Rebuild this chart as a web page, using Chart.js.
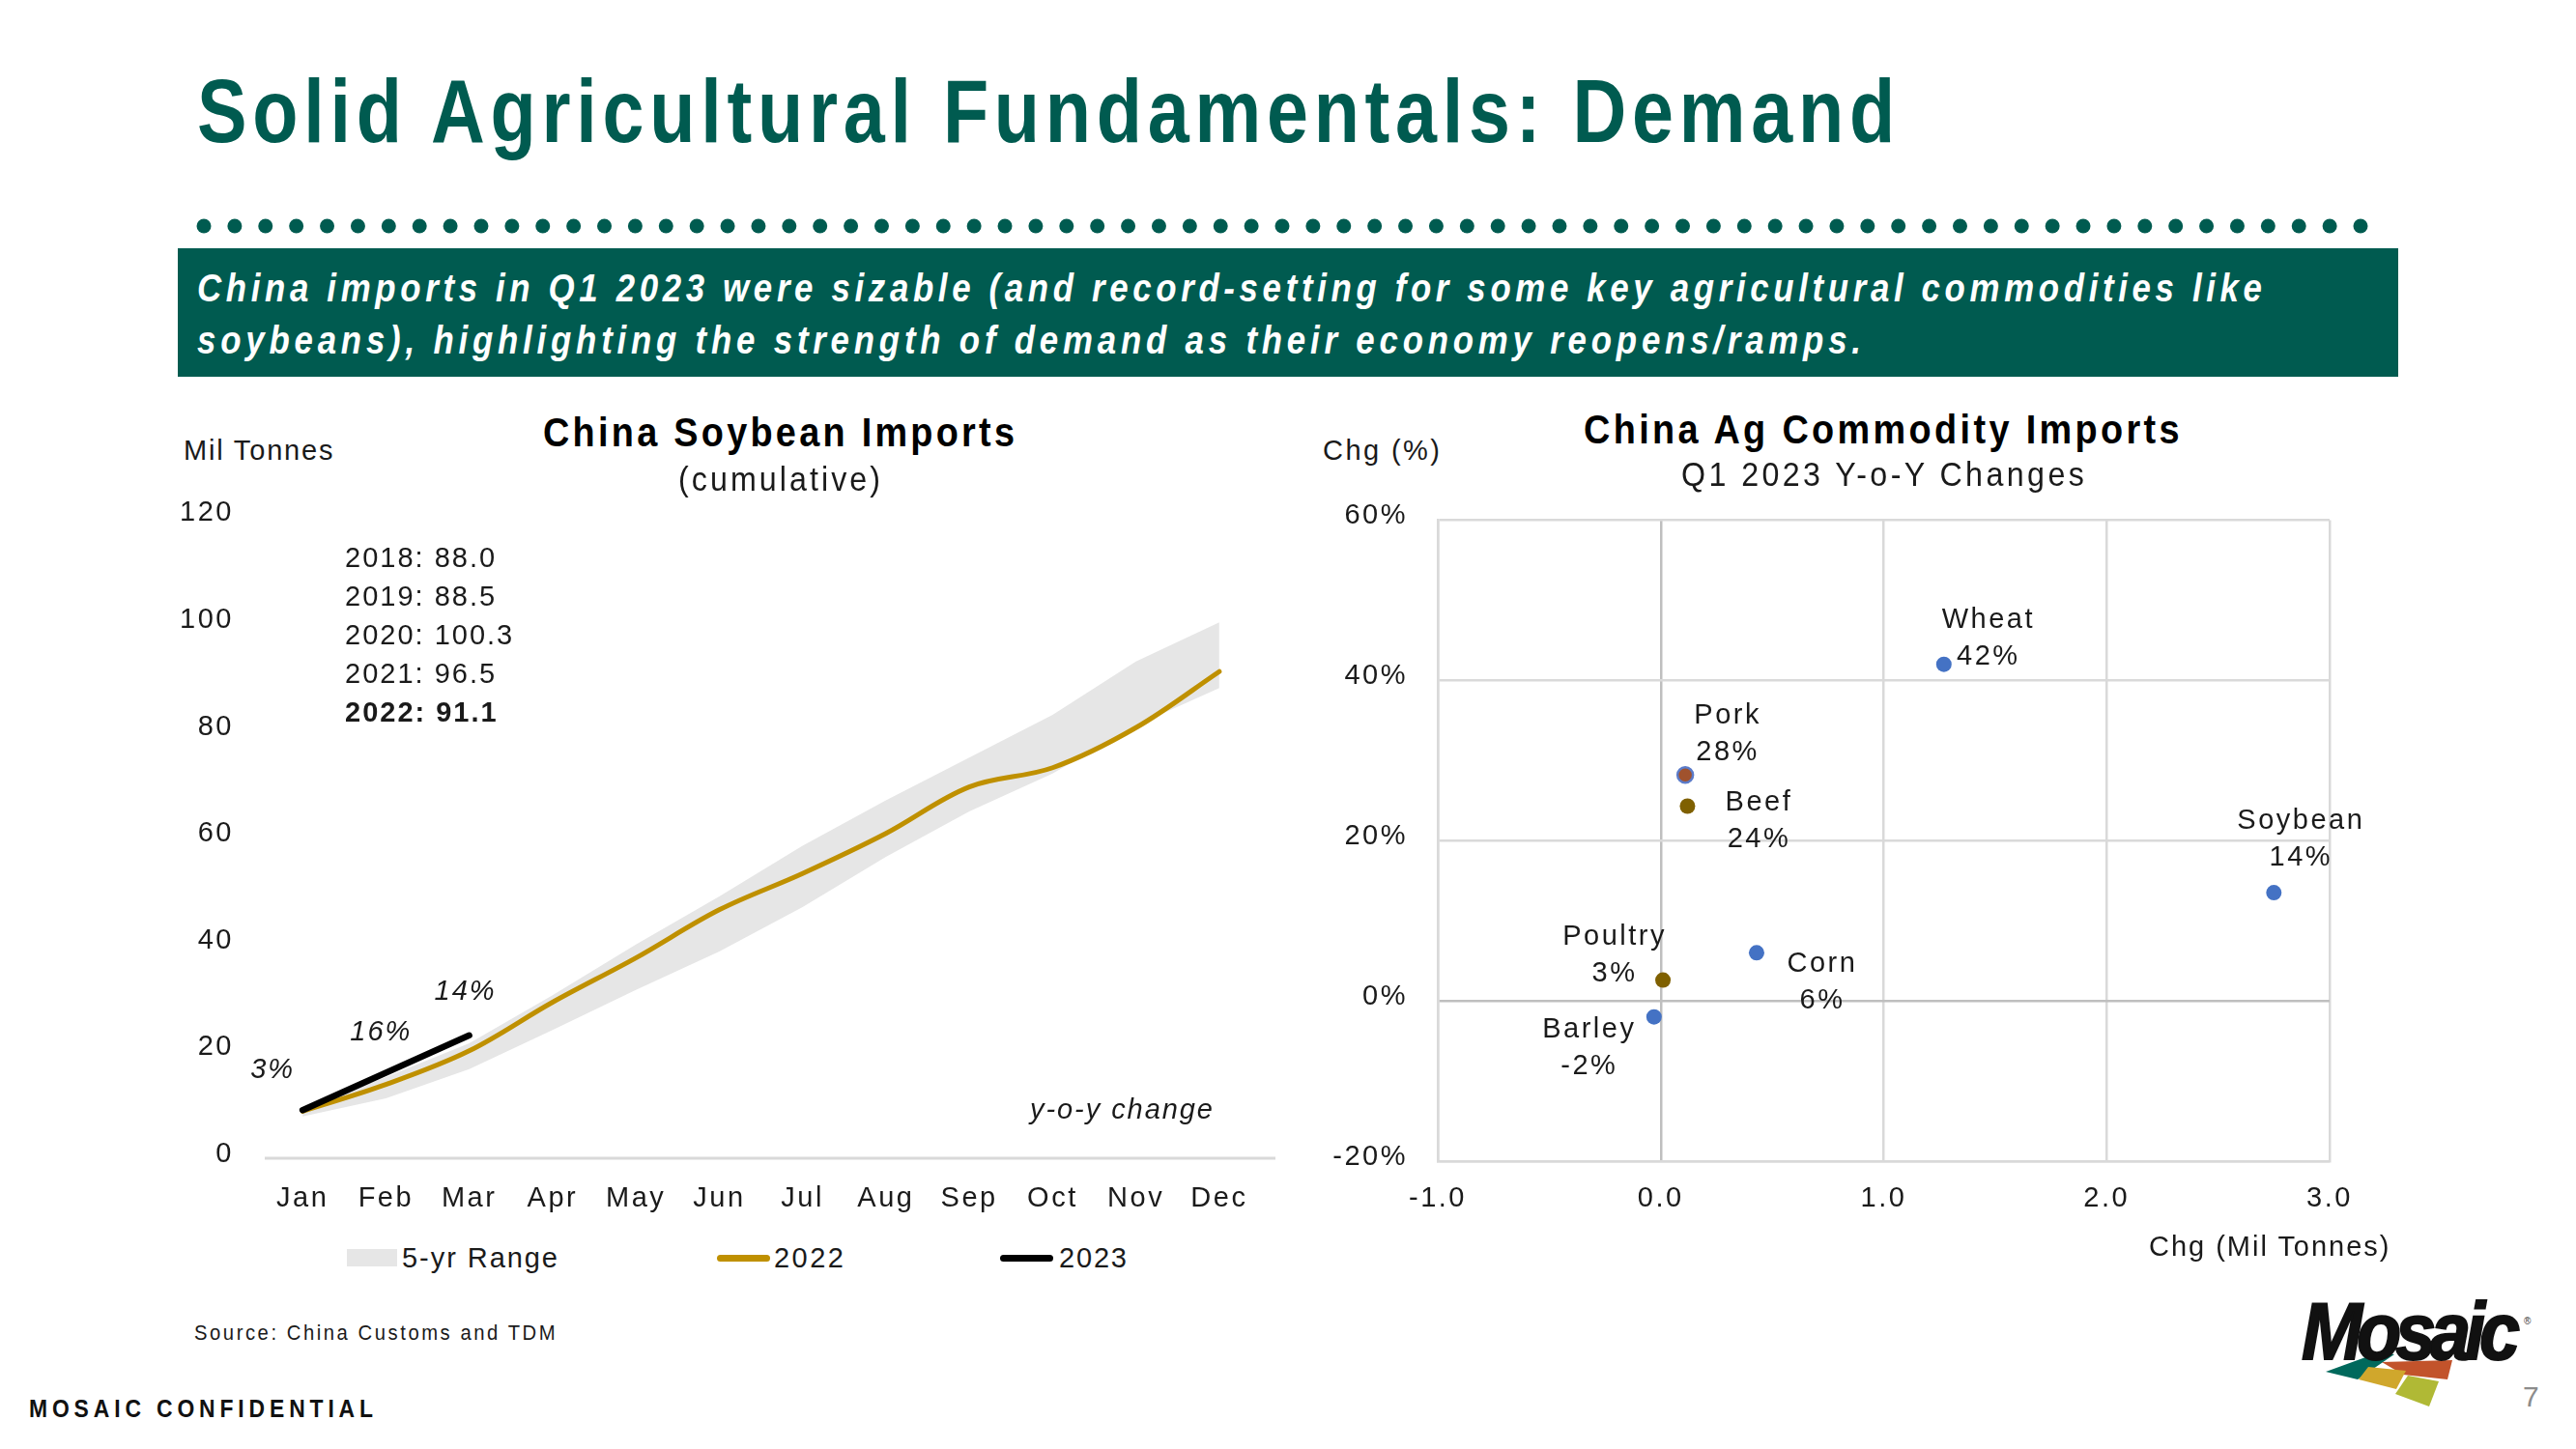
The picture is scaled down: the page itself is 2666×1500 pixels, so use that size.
<!DOCTYPE html>
<html><head><meta charset="utf-8">
<script src="https://cdn.jsdelivr.net/npm/chart.js@4.4.0/dist/chart.umd.min.js"></script>
<style>
html,body{margin:0;padding:0;background:#fff;}
body{width:2666px;height:1500px;position:relative;overflow:hidden;font-family:"Liberation Sans",Arial,sans-serif;}
.t{position:absolute;white-space:nowrap;transform-origin:0 50%;}
canvas{position:absolute;}
</style></head><body>
<svg id="deco" width="2666" height="1500" style="position:absolute;left:0;top:0"></svg>
<canvas id="left" width="1190" height="790" style="left:150px;top:490px"></canvas>
<canvas id="right" width="1200" height="820" style="left:1340px;top:490px"></canvas>
<script>
// ---------- DATA ----------
const months = ['Jan','Feb','Mar','Apr','May','Jun','Jul','Aug','Sep','Oct','Nov','Dec'];
const range5High = [9.3, 15.2, 21.5, 30.5, 40.0, 49.0, 58.5, 67.0, 75.0, 83.0, 93.0, 100.3];
const range5Low  = [7.8, 11.2, 16.7, 24.0, 31.5, 38.7, 47.0, 56.4, 64.9, 72.0, 81.0, 88.0];
const imports2022 = [8.8, 13.8, 20.1, 29.2, 37.5, 46.5, 53.3, 60.8, 69.5, 73.1, 80.6, 91.1];
const imports2023 = [9.0, 16.0, 23.0];
const yoyChange = ['3%', '16%', '14%'];
const finalYears = ['2018', '2019', '2020', '2021', '2022'];
const finalTotals = [88.0, 88.5, 100.3, 96.5, 91.1];

const commodities  = ['Wheat', 'Soybean', 'Pork', 'Beef', 'Corn', 'Poultry', 'Barley'];
const chgMilTonnes = [1.27, 2.75, 0.11, 0.12, 0.43, 0.01, -0.03];
const chgPercent   = [42.0, 13.5, 28.2, 24.3, 6.0, 2.6, -2.0];

// ---------- STYLE / LAYOUT ----------
const FONT = '"Liberation Sans", Arial, sans-serif';
const GREEN = '#005B50';
const GOLD = '#BF9000';
const TXT = '#1a1a1a';
const LS = '2.5px';
const pointFill   = ['#4472C4','#4472C4','#A0522D','#7F6000','#4472C4','#7F6000','#4472C4'];
const pointBorder = ['#4472C4','#4472C4','#5B7BC9','#7F6000','#4472C4','#7F6000','#4472C4'];
const pointBorderW= [0,0,2.5,0,0,0,0];
// label centre offsets (first line) relative to each point
const labelOffsets = [[46,-46],[28,-74],[44,-61],[74,-4],[68,12],[-50,-45],[-67,13]];
const yoyOffsets = [[-31,-41],[-5,-42],[-4,-45]];

const mctx = document.createElement('canvas').getContext('2d');
function txt(s, o) {
  const el = document.createElement('div');
  el.className = 't';
  el.textContent = s;
  const size = o.size, weight = o.weight || 'normal', style = o.style || 'normal';
  const k = o.sx || 1;
  const f = `${style} ${weight} ${size}px ${FONT}`;
  el.style.font = f;
  el.style.lineHeight = size + 'px';
  el.style.color = o.color || TXT;
  mctx.font = f;
  const nat = mctx.measureText(s).width;
  const n = [...s].length;
  let ls = o.ls != null ? o.ls : 0;
  if (o.width) ls = (o.width / k - nat) / (n - 1);
  el.style.letterSpacing = ls + 'px';
  const w = (nat + (n - 1) * ls) * k;
  let left = o.x;
  if (o.align === 'center') left = o.x - w / 2;
  else if (o.align === 'right') left = o.x - w;
  el.style.left = left + 'px';
  el.style.top = (o.y - 0.49 * size) + 'px';
  if (k !== 1) el.style.transform = `scaleX(${k})`;
  if (o.z) el.style.zIndex = o.z;
  if (o.stroke) { el.style.webkitTextStroke = o.stroke + 'px ' + (o.color || TXT); }
  document.body.appendChild(el);
  return el;
}
function box(x, y, w, h, bg, r) {
  const d = document.createElement('div');
  d.style.cssText = `position:absolute;left:${x}px;top:${y}px;width:${w}px;height:${h}px;background:${bg};border-radius:${r||0}px`;
  document.body.appendChild(d);
  return d;
}

// ---------- HEADER ----------
txt('Solid Agricultural Fundamentals: Demand', {x:204, y:114, size:92, weight:'bold', color:GREEN, width:1760, sx:0.84});
const svg = document.getElementById('deco');
let sv = '';
for (let i = 0; i < 71; i++) {
  const cx = 211 + i * (2443 - 211) / 70;
  sv += `<circle cx="${cx}" cy="234" r="7.5" fill="${GREEN}"/>`;
}
// logo tiles
const tiles = [
  ['#00695C','2407,1420 2462,1400 2478,1402 2440,1428'],
  ['#C2532B','2465,1410 2538,1408 2533,1428 2487,1423'],
  ['#D0A72C','2451,1415 2490,1419 2480,1438 2441,1428'],
  ['#B0B935','2492,1424 2524,1430 2514,1456 2479,1443']
];
tiles.forEach(t => sv += `<polygon points="${t[1]}" fill="${t[0]}"/>`);
svg.innerHTML = sv;
box(184, 257, 2298, 133, GREEN);
txt('China imports in Q1 2023 were sizable (and record-setting for some key agricultural commodities like', {x:204, y:298, size:41, weight:'bold', style:'italic', color:'#fff', width:2137, sx:0.85});
txt('soybeans), highlighting the strength of demand as their economy reopens/ramps.', {x:204, y:352, size:41, weight:'bold', style:'italic', color:'#fff', width:1722, sx:0.85});

// ---------- LEFT CHART TEXT ----------
txt('China Soybean Imports', {x:806, y:447, size:43, weight:'bold', align:'center', width:488, color:'#000', sx:0.88});
txt('(cumulative)', {x:806, y:495, size:35, align:'center', width:209, sx:0.92});
txt('Mil Tonnes', {x:190, y:466, size:29, width:155});
finalYears.forEach((yr, i) => {
  txt(`${yr}: ${finalTotals[i].toFixed(1)}`, {x:357, y:577 + i * 40, size:29, ls:2, weight: i === finalYears.length - 1 ? 'bold' : 'normal', z:5});
});
txt('y-o-y change', {x:1255, y:1148, size:29, style:'italic', align:'right', width:189, z:5});
// legend
box(359, 1293, 52, 18, '#E6E6E6');
txt('5-yr Range', {x:416, y:1302, size:29, width:161});
box(742, 1299, 55, 7, GOLD, 3.5);
txt('2022', {x:801, y:1302, size:29, width:72});
box(1035, 1299, 55, 7, '#000', 3.5);
txt('2023', {x:1096, y:1302, size:29, width:70});
txt('Source: China Customs and TDM', {x:201, y:1380, size:22, width:374, sx:0.92});

// ---------- RIGHT CHART TEXT ----------
txt('China Ag Commodity Imports', {x:1948, y:444, size:43, weight:'bold', align:'center', width:618, color:'#000', sx:0.88});
txt('Q1 2023 Y-o-Y Changes', {x:1949, y:490, size:35, align:'center', width:418, sx:0.92});
txt('Chg (%)', {x:1369, y:466, size:29, width:121});
txt('Chg (Mil Tonnes)', {x:2473, y:1290, size:29, align:'right', width:249});

// ---------- FOOTER ----------
txt('MOSAIC CONFIDENTIAL', {x:30, y:1458, size:26, weight:'bold', width:356, color:'#111', sx:0.88});
txt('7', {x:2611, y:1446, size:30, color:'#8c8c8c'});
txt('Mosaic', {x:2382, y:1377, size:84, weight:'bold', style:'italic', width:226, color:'#111', stroke:2, sx:0.9});
txt('®', {x:2612, y:1368, size:10, color:'#333'});

// ---------- CHART.JS ----------
const lsPlugin = {id:'ls', beforeDraw(c){ c.ctx.letterSpacing = LS; }};

const baselinePlugin = {id:'baseline', beforeDatasetsDraw(c){
  const ctx = c.ctx, a = c.chartArea, y = c.scales.y.getPixelForValue(0);
  ctx.save(); ctx.strokeStyle = '#D9D9D9'; ctx.lineWidth = 3;
  ctx.beginPath(); ctx.moveTo(a.left + 4, y); ctx.lineTo(a.right + 15, y); ctx.stroke(); ctx.restore();
}};

const yoyPlugin = {id:'yoy', afterDatasetsDraw(c){
  const ctx = c.ctx, meta = c.getDatasetMeta(3);
  ctx.save();
  ctx.font = `italic 29px ${FONT}`; ctx.fillStyle = TXT; ctx.textAlign = 'center'; ctx.textBaseline = 'middle';
  ctx.letterSpacing = '2px';
  meta.data.forEach((p, i) => ctx.fillText(yoyChange[i], p.x + yoyOffsets[i][0], p.y + yoyOffsets[i][1]));
  ctx.restore();
}};

new Chart(document.getElementById('left'), {
  type: 'line',
  data: { labels: months, datasets: [
    {label:'5-yr High', data:range5High, borderWidth:0, pointRadius:0, fill:'+1', backgroundColor:'#E6E6E6', borderColor:'rgba(0,0,0,0)', tension:0, order:3},
    {label:'5-yr Low', data:range5Low, borderWidth:0, pointRadius:0, fill:false, borderColor:'rgba(0,0,0,0)', tension:0, order:4},
    {label:'2022', data:imports2022, borderColor:GOLD, borderWidth:5, pointRadius:0, tension:0.35, fill:false, order:2, borderCapStyle:'round'},
    {label:'2023', data:imports2023, borderColor:'#000', borderWidth:6.5, pointRadius:0, tension:0, fill:false, order:1, borderCapStyle:'round'}
  ]},
  options: {
    responsive:false, animation:false, devicePixelRatio:1,
    layout:{padding:{top:37, right:35, left:0, bottom:0}},
    plugins:{legend:{display:false}, tooltip:{enabled:false}},
    scales:{
      x:{offset:true, grid:{display:false, drawTicks:false}, border:{display:false},
         ticks:{font:{family:FONT, size:29}, color:TXT, padding:25, maxRotation:0, autoSkip:false},
         afterFit(s){ s.height = 81; }},
      y:{min:0, max:120, grid:{display:false, drawTicks:false}, border:{display:false},
         ticks:{stepSize:20, font:{family:FONT, size:29}, color:TXT, padding:28, labelOffset:-4},
         afterFit(s){ s.width = 120; }}
    }
  },
  plugins:[lsPlugin, baselinePlugin, yoyPlugin]
});

const labelPlugin = {id:'plabels', afterDatasetsDraw(c){
  const ctx = c.ctx, meta = c.getDatasetMeta(0);
  ctx.save();
  ctx.font = `29px ${FONT}`; ctx.fillStyle = TXT; ctx.textAlign = 'center'; ctx.textBaseline = 'middle';
  ctx.letterSpacing = LS;
  meta.data.forEach((p, i) => {
    const x = p.x + labelOffsets[i][0], y = p.y + labelOffsets[i][1];
    ctx.fillText(commodities[i], x, y);
    ctx.fillText(Math.round(chgPercent[i]) + '%', x, y + 38);
  });
  ctx.restore();
}};

const gridColor = (ctx) => (ctx.tick && ctx.tick.value === 0) ? '#BFBFBF' : '#D9D9D9';
new Chart(document.getElementById('right'), {
  type: 'scatter',
  data: { datasets: [{
    label:'Q1 2023',
    data: commodities.map((c, i) => ({x: chgMilTonnes[i], y: chgPercent[i]})),
    pointRadius: 8, pointBackgroundColor: pointFill, pointBorderColor: pointBorder, pointBorderWidth: pointBorderW
  }]},
  options: {
    responsive:false, animation:false, devicePixelRatio:1,
    layout:{padding:{top:42, right:129, left:0, bottom:0}},
    plugins:{legend:{display:false}, tooltip:{enabled:false}},
    scales:{
      x:{type:'linear', min:-1, max:3,
         grid:{color:gridColor, lineWidth:2.5, drawTicks:false}, border:{color:'#D9D9D9', width:2.5},
         ticks:{stepSize:1, callback:v => v.toFixed(1), font:{family:FONT, size:29}, color:TXT, padding:22},
         afterFit(s){ s.height = 108; }},
      y:{min:-20, max:60,
         grid:{color:gridColor, lineWidth:2.5, drawTicks:false}, border:{color:'#D9D9D9', width:2.5},
         ticks:{stepSize:20, callback:v => v + '%', font:{family:FONT, size:29}, color:TXT, padding:31, labelOffset:-4},
         afterFit(s){ s.width = 148; }}
    }
  },
  plugins:[lsPlugin, labelPlugin]
});
</script>
</body></html>
